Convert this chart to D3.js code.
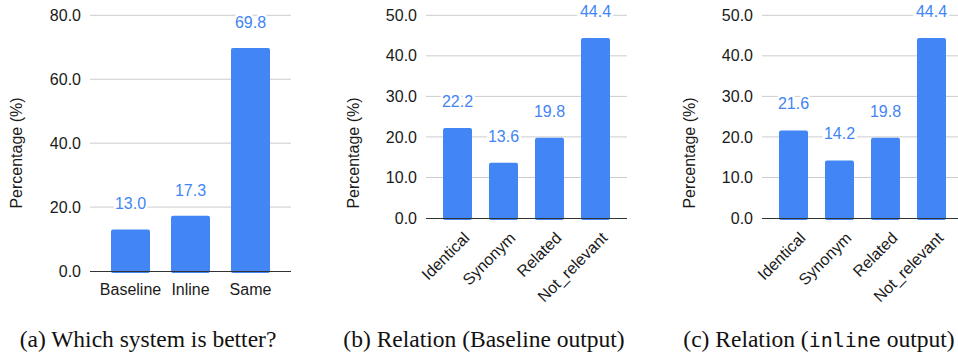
<!DOCTYPE html>
<html>
<head>
<meta charset="utf-8">
<script src="https://cdn.jsdelivr.net/npm/d3@7"></script>
<style>
  html, body { margin: 0; padding: 0; background: #fff; }
  svg { display: block; }
</style>
</head>
<body>
<svg id="chart" width="958" height="354"></svg>
<script>
// ---- Data ----
const systemCategories = ["Baseline", "Inline", "Same"];
const systemValues = [13.0, 17.3, 69.8];
const systemTicks = [0, 20, 40, 60, 80];

const relationCategories = ["Identical", "Synonym", "Related", "Not_relevant"];
const baselineRelationValues = [22.2, 13.6, 19.8, 44.4];
const inlineRelationValues = [21.6, 14.2, 19.8, 44.4];
const relationTicks = [0, 10, 20, 30, 40, 50];

const yAxisTitle = "Percentage (%)";

// ---- Styles ----
const BAR = "#4285f4";
const GRID = "#cccccc";
const AXIS = "#333333";
const TEXT = "#1a1a1a";
const FONT = "'Liberation Sans', Arial, sans-serif";
const FS = 16;

const svg = d3.select("#chart");

function drawPanel(cfg) {
  const g = svg.append("g");
  const x = d3.scaleBand().domain(cfg.categories).range(cfg.xRange).padding(cfg.padding);
  const y = d3.scaleLinear().domain([0, cfg.max]).range(cfg.yRange);

  // gridlines
  g.selectAll("line.grid").data(cfg.ticks.filter(t => t !== 0)).join("line")
    .attr("x1", cfg.xRange[0]).attr("x2", cfg.xRange[1])
    .attr("y1", d => y(d)).attr("y2", d => y(d))
    .attr("stroke", GRID).attr("stroke-width", 1);

  // y tick labels
  g.selectAll("text.ytick").data(cfg.ticks).join("text")
    .attr("x", cfg.tickX).attr("y", d => y(d)).attr("dy", "0.35em")
    .attr("text-anchor", "end")
    .attr("font-family", FONT).attr("font-size", FS).attr("fill", TEXT)
    .text(d => d3.format(".1f")(d));

  // bars
  const vals = cfg.values;
  g.selectAll("rect.bar").data(cfg.categories).join("rect")
    .attr("x", d => x(d)).attr("width", x.bandwidth())
    .attr("y", (d, i) => y(vals[i])).attr("height", (d, i) => y(0) - y(vals[i]) + 2)
    .attr("rx", 2).attr("fill", BAR);

  // axis baseline
  g.append("line")
    .attr("x1", cfg.xRange[0]).attr("x2", cfg.xRange[1])
    .attr("y1", y(0) + 0.5).attr("y2", y(0) + 0.5)
    .attr("stroke", AXIS).attr("stroke-width", 1.2);

  // value labels
  g.selectAll("text.val").data(cfg.categories).join("text")
    .attr("x", d => x(d) + x.bandwidth() / 2)
    .attr("y", (d, i) => y(vals[i]) - cfg.labelGap)
    .attr("text-anchor", "middle")
    .attr("font-family", FONT).attr("font-size", FS).attr("fill", BAR)
    .attr("stroke", "#fff").attr("stroke-width", 5).attr("paint-order", "stroke")
    .text((d, i) => d3.format(".1f")(vals[i]));

  // x labels
  if (cfg.rotate) {
    g.selectAll("text.xl").data(cfg.categories).join("text")
      .attr("transform", d => `translate(${x(d) + x.bandwidth() / 2 + 9},${y(0) + 17}) rotate(-45)`)
      .attr("text-anchor", "end").attr("dy", "0.35em")
      .attr("font-family", FONT).attr("font-size", FS).attr("fill", TEXT)
      .text(d => d);
  } else {
    g.selectAll("text.xl").data(cfg.categories).join("text")
      .attr("x", d => x(d) + x.bandwidth() / 2).attr("y", y(0) + 24)
      .attr("text-anchor", "middle")
      .attr("font-family", FONT).attr("font-size", FS).attr("fill", TEXT)
      .text(d => d);
  }

  // y axis title
  g.append("text")
    .attr("transform", `translate(${cfg.titleX},153) rotate(-90)`)
    .attr("text-anchor", "middle")
    .attr("font-family", FONT).attr("font-size", FS).attr("fill", TEXT)
    .text(yAxisTitle);
}

drawPanel({ categories: systemCategories, values: systemValues, ticks: systemTicks, max: 80,
  xRange: [90, 291], yRange: [271, 15.3], padding: 0.35, tickX: 81, titleX: 21.5, labelGap: 20, rotate: false });
drawPanel({ categories: relationCategories, values: baselineRelationValues, ticks: relationTicks, max: 50,
  xRange: [426, 627], yRange: [218, 15.3], padding: 0.37, tickX: 417, titleX: 358.5, labelGap: 21, rotate: true });
drawPanel({ categories: relationCategories, values: inlineRelationValues, ticks: relationTicks, max: 50,
  xRange: [762, 963], yRange: [218, 15.3], padding: 0.37, tickX: 753, titleX: 694.5, labelGap: 21, rotate: true });

// ---- Captions ----
const SERIF = "'Liberation Serif', 'Times New Roman', serif";
const MONO = "'DejaVu Sans Mono', 'Liberation Mono', monospace";
const captions = [
  { cx: 148, parts: [["(a) Which system is better?", SERIF]] },
  { cx: 484, parts: [["(b) Relation (Baseline output)", SERIF]] },
  { cx: 819, parts: [["(c) Relation (", SERIF], ["inline", MONO], [" output)", SERIF]] }
];
captions.forEach(c => {
  const t = svg.append("text").attr("x", c.cx).attr("y", 347)
    .attr("text-anchor", "middle").attr("font-size", 23.5).attr("fill", "#111");
  c.parts.forEach(p => t.append("tspan").attr("font-family", p[1])
    .attr("font-size", p[1] === MONO ? 20 : 23.5).text(p[0]));
});
</script>
</body>
</html>
